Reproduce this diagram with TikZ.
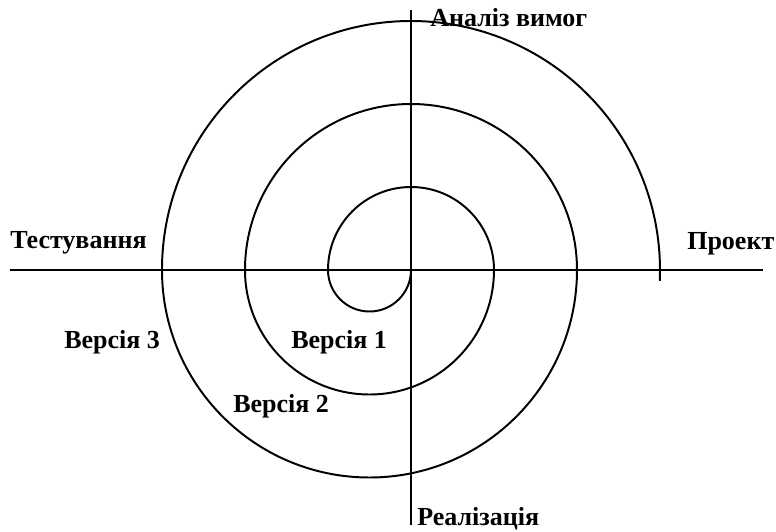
\documentclass[tikz,border=0pt]{standalone}
\usepackage{fontspec}
\setmainfont{Liberation Serif}
\usepackage{tikz}
\usetikzlibrary{positioning}
\tikzset{
  axisline/.style={line width=1.9pt,draw=black},
  spiralline/.style={line width=1.4pt,draw=black},
  phaselabel/.style={font=\fontsize{18.5}{20}\selectfont\bfseries,inner sep=0pt,anchor=base west},
  versionlabel/.style={phaselabel}
}

\begin{document}
\begin{tikzpicture}[scale=0.025]
    \useasboundingbox (-411,-261) rectangle (365,270);

    % axes
    \coordinate (west) at (-401,0);
    \coordinate (east) at (352,0);
    \coordinate (north) at (0,260);
    \coordinate (south) at (0,-255);
    \coordinate (origin) at (0,0);
    \draw[axisline] (west) -- (east);
    \draw[axisline] (north) -- (south);

    % spiral of half circles
    \draw[spiralline] (origin) arc (0:-180:41.5) arc (180:0:83)
      arc (0:-180:124.5) arc (180:0:166)
      arc (0:-180:207.5) arc (180:-2.5:249);

    \node[phaselabel] (analysis) at (19,244) {Аналіз вимог};
    \node[phaselabel] (design) at (276,21) {Проект};
    \node[phaselabel] (implementation) at (6,-255) {Реалізація};
    \node[phaselabel] (testing) at (-401,22) {Тестування};

    \node[versionlabel] (version1) at (-120,-78) {Версія 1};
    \node[versionlabel] (version2) at (-178,-142) {Версія 2};
    \node[versionlabel] (version3) at (-347,-78) {Версія 3};
\end{tikzpicture}
\end{document}
